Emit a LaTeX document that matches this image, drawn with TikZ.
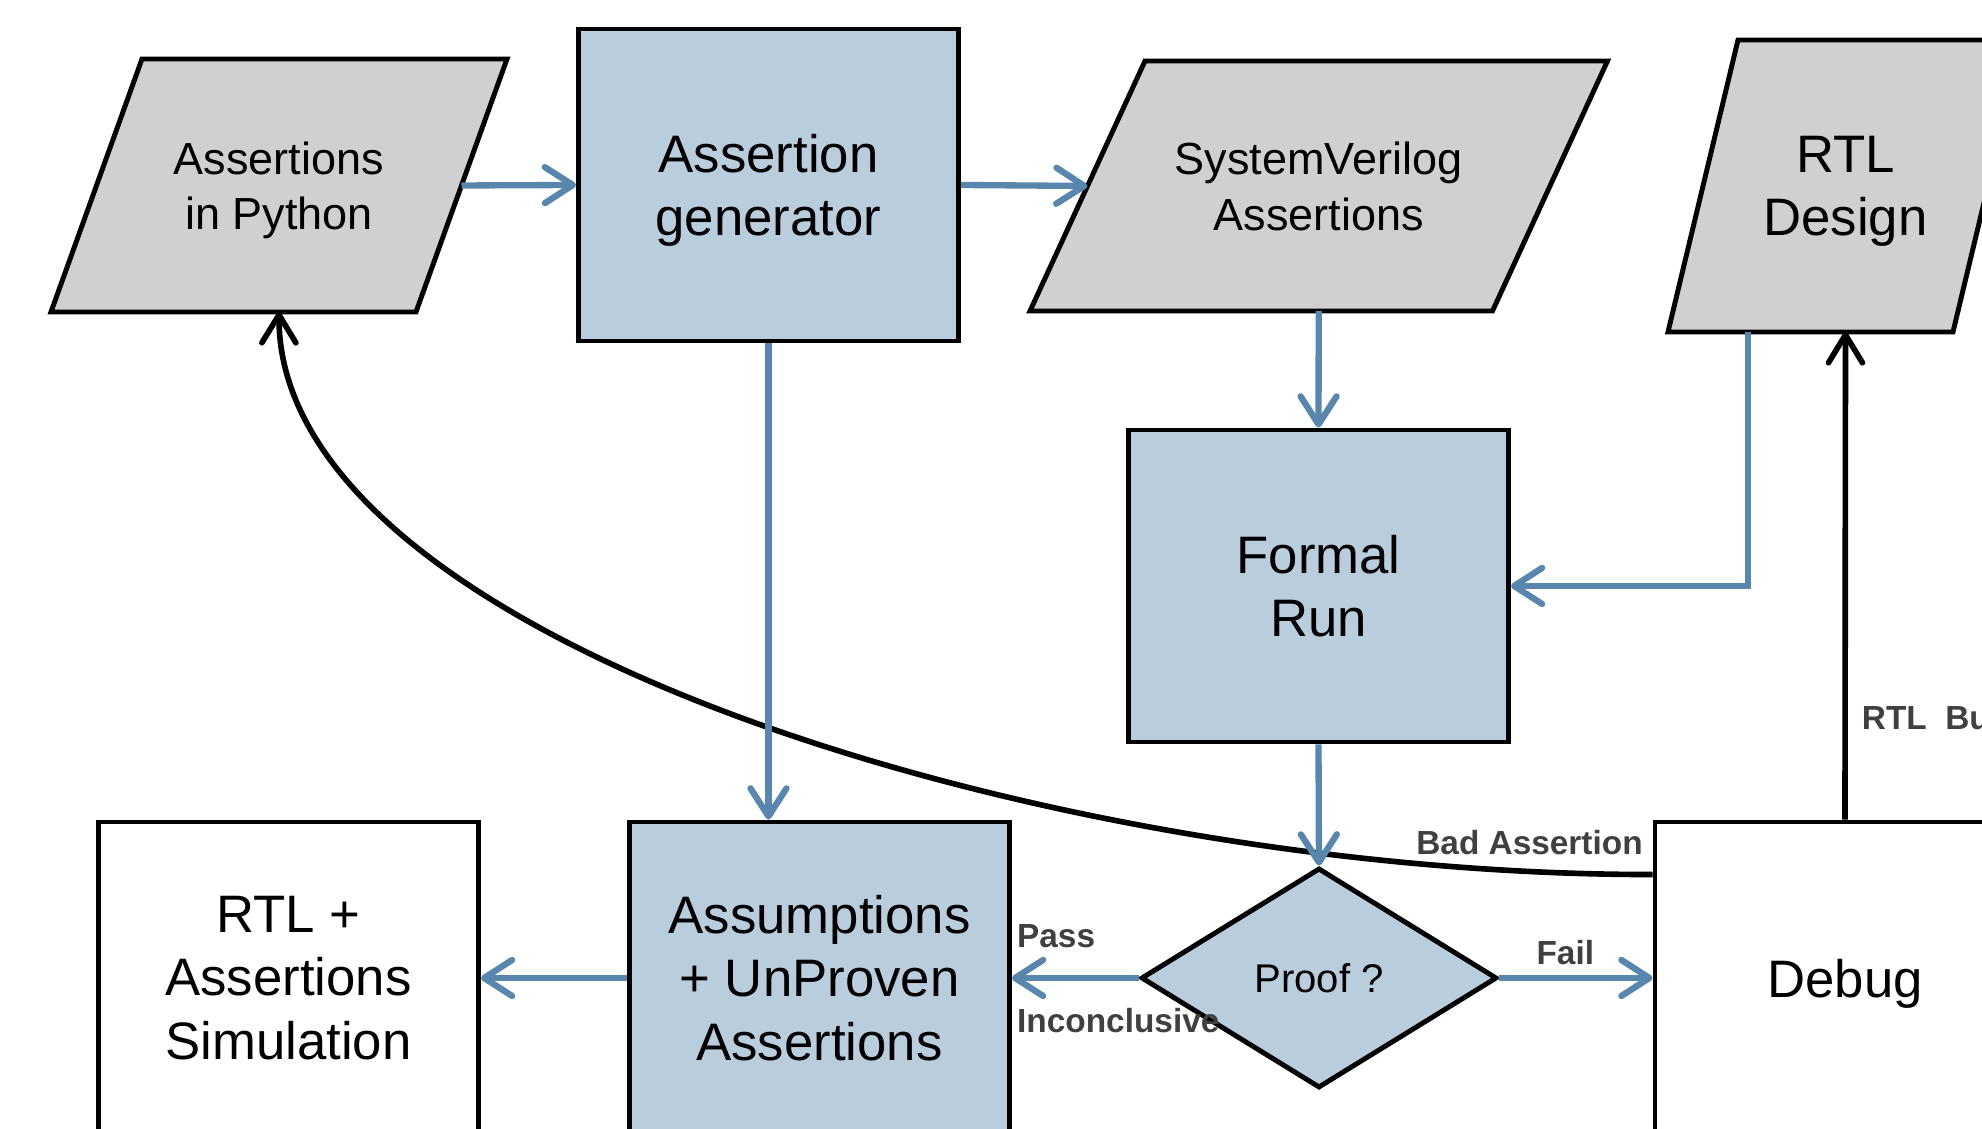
\documentclass[tikz,border=0pt]{standalone}
\usepackage{fontspec}
\setmainfont{Liberation Sans}
\usetikzlibrary{arrows.meta,shapes.geometric,backgrounds}
\definecolor{boxblue}{RGB}{185,205,221}
\definecolor{datagray}{RGB}{208,208,208}
\definecolor{flowblue}{RGB}{88,134,172}
\definecolor{lblgray}{RGB}{64,64,64}

\begin{document}
\begin{tikzpicture}[auto,
  proc/.style={draw, line width=1.4pt, fill=boxblue, minimum width=3.8cm, minimum height=3.12cm, align=center, font=\fontsize{15}{18}\selectfont},
  simbox/.style={proc, fill=white},
  data/.style={inner sep=0pt, outer sep=0pt, align=center, font=\fontsize{12.8}{15.8}\selectfont},
  datashape/.style={draw, line width=1.4pt, fill=datagray},
  flow/.style={line width=1.8pt, flowblue, -{Straight Barb[length=2.8mm, width=3.6mm, round]}},
  back/.style={line width=1.6pt, black, -{Straight Barb[length=2.8mm, width=3.4mm, round]}},
  lbl/.style={font=\fontsize{9.5}{11}\selectfont\bfseries, text=lblgray, inner sep=2pt}]
  
  \useasboundingbox (0, 0) rectangle (19.82, 11.29);
  \clip (0, 0) rectangle (19.82, 11.29);
  
  \node[data, minimum width=3.65cm, minimum height=2.53cm, text depth=-1.8pt] (py) at (2.79, 9.435) {Assertions\\in Python};
  \node[proc, text depth=-2.6pt] (gen) at (7.685, 9.44) {Assertion\\generator};
  \node[data, minimum width=4.625cm, minimum height=2.5cm, text depth=-1.5pt] (sva) at (13.1875, 9.43) {SystemVerilog\\Assertions};
  \node[data, minimum width=2.85cm, minimum height=2.92cm, text depth=-3pt, font=\fontsize{15}{18}\selectfont] (rtl) at (18.455, 9.43) {RTL\\Design};
  \node[proc] (fr) at (13.185, 5.43) {Formal\\Run};
  \node[proc, diamond, minimum width=3.56cm, minimum height=2.2cm, aspect=1.62, inner sep=0pt, font=\fontsize{11.4}{14}\selectfont] (pf) at (13.19, 1.51) {Proof ?};
  \node[proc] (asm) at (8.195, 1.51) {Assumptions\\+ UnProven\\Assertions};
  \node[simbox] (sim) at (2.885, 1.51) {RTL +\\Assertions\\Simulation};
  \node[simbox, text depth=-0.5pt] (dbg) at (18.45, 1.51) {Debug};
  
  \begin{scope}[on background layer]
    \draw[datashape] ([xshift=0.455cm]py.north west) -- ([xshift=0.455cm]py.north east) -- ([xshift=-0.455cm]py.south east) -- ([xshift=-0.455cm]py.south west) -- cycle;
    \draw[datashape] ([xshift=0.575cm]sva.north west) -- ([xshift=0.575cm]sva.north east) -- ([xshift=-0.575cm]sva.south east) -- ([xshift=-0.575cm]sva.south west) -- cycle;
    \draw[datashape] ([xshift=0.35cm]rtl.north west) -- ([xshift=0.35cm]rtl.north east) -- ([xshift=-0.35cm]rtl.south east) -- ([xshift=-0.35cm]rtl.south west) -- cycle;
  \end{scope}
  
  \draw[back] ([yshift=-0.55cm]dbg.north west) node[lbl, anchor=base east, yshift=0.2cm] {Bad Assertion}
    .. controls (10.5, 2.54) and (2.78, 4.89) .. (py.south);
  \draw[back] (dbg.north) to node[lbl, pos=0.184, anchor=base west, xshift=0.07cm] {RTL\ \ Bug} (rtl.south);
  
  \draw[flow] (py.east) -- (gen.west);
  \draw[flow] (gen.east) -- (sva.west);
  \draw[flow] (sva.south) -- (fr.north);
  \draw[flow] ([xshift=-0.975cm]rtl.south) |- (fr.east);
  \draw[flow] (fr.south) -- (pf.north);
  \draw[flow] (gen.south) -- (asm.north -| gen.south);
  \draw[flow] (pf.west) to node[lbl, pos=1, anchor=base west, xshift=-0.05cm, yshift=0.3cm] {Pass} node[lbl, pos=1, anchor=base west, xshift=-0.05cm, yshift=-0.55cm] {Inconclusive} (asm.east);
  \draw[flow] (asm.west) -- (sim.east);
  \draw[flow] (pf.east) to node[lbl, pos=0.43, anchor=base, yshift=0.13cm] {Fail} (dbg.west);
  
\end{tikzpicture}
\end{document}
